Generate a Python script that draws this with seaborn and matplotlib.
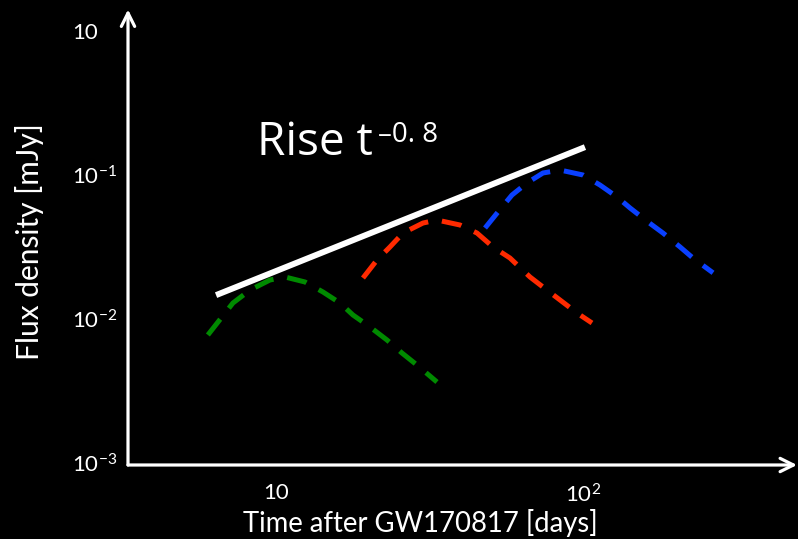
import matplotlib
matplotlib.use("Agg")
import matplotlib.pyplot as plt
import seaborn as sns
import pandas as pd

# Light-curve sketches: time after GW170817 [days] vs flux density [mJy]
green_t = [6.00, 7.24, 8.23, 9.56, 10.70, 12.43, 14.23, 16.16, 17.81, 20.24, 22.99, 25.73, 28.80, 33.45]
green_f = [0.00777, 0.01296, 0.01595, 0.01873, 0.01965, 0.01814, 0.01545, 0.01296, 0.01070, 0.00883,
           0.00717, 0.00582, 0.00480, 0.00366]

red_t = [19.20, 21.33, 23.51, 25.93, 30.12, 33.45, 39.75, 45.15, 50.91, 57.83, 67.20, 74.07, 84.19, 95.60, 106.98]
red_f = [0.01933, 0.02579, 0.03177, 0.03972, 0.04661, 0.04891, 0.04514, 0.03972, 0.03177, 0.02662,
         0.01965, 0.01674, 0.01359, 0.01105, 0.00941]

blue_t = [47.96, 52.85, 58.71, 65.70, 74.07, 84.19, 100.0, 113.6, 129.1, 142.3, 162.8, 182.2, 207.0, 228.2, 265.2]
blue_f = [0.04302, 0.05559, 0.07296, 0.08842, 0.1038, 0.1088, 0.1005, 0.0856, 0.0707, 0.0593,
          0.0474, 0.0397, 0.0318, 0.0266, 0.0210]

# Rising envelope
rise_t = [6.38, 101.5]
rise_f = [0.0147, 0.157]

y_ticks = [1, 0.1, 0.01, 0.001]
y_ticklabels = ["10", "10$^{-1}$", "10$^{-2}$", "10$^{-3}$"]
x_ticks = [10, 100]
x_ticklabels = ["10", "10$^{2}$"]

sns.set_theme(style="dark")
plt.rcParams["font.family"] = ["Lato", "DejaVu Sans"]
plt.rcParams["mathtext.default"] = "regular"

fig = plt.figure(figsize=(7.98, 5.39), dpi=100, facecolor="black")
ax = fig.add_axes([128 / 798, (539 - 465) / 539, (797 - 128) / 798, (465 - 9.5) / 539])
ax.set_facecolor("black")
ax.grid(False)
ax.set_xscale("log")
ax.set_yscale("log")

dash = (0, (4.0, 2.8))
curves = [
    (green_t, green_f, "#008a00"),
    (red_t, red_f, "#ff2a00"),
    (blue_t, blue_f, "#0a40ff"),
]
for t, f, c in curves:
    df = pd.DataFrame({"t": t, "f": f})
    sns.lineplot(data=df, x="t", y="f", ax=ax, color=c, lw=3.6, linestyle=dash,
                 estimator=None, sort=False)

sns.lineplot(data=pd.DataFrame({"t": rise_t, "f": rise_f}), x="t", y="f", ax=ax,
             color="white", lw=4.3, estimator=None, sort=False, solid_capstyle="butt")

ax.set_xlim(3.296, 497.8)
ax.set_ylim(0.000970, 1.42)

for s in ax.spines.values():
    s.set_visible(False)

# Axis arrows
arrow = dict(arrowstyle="->", color="white", lw=2.3, mutation_scale=24, shrinkA=0, shrinkB=0)
ax.annotate("", xy=(1, 0), xytext=(0, 0), xycoords="axes fraction", arrowprops=arrow)
ax.annotate("", xy=(0, 1), xytext=(0, 0), xycoords="axes fraction", arrowprops=arrow)

ax.set_xticks(x_ticks)
ax.set_xticklabels(x_ticklabels)
ax.set_yticks(y_ticks)
ax.set_yticklabels(y_ticklabels)
ax.minorticks_off()
ax.tick_params(axis="both", length=0, colors="white", labelsize=16)
ax.tick_params(axis="x", pad=13)
ax.tick_params(axis="y", pad=40)
for lbl in ax.get_yticklabels():
    lbl.set_horizontalalignment("left")

ax.set_xlabel("Time after GW170817 [days]", color="white", fontsize=19.8)
ax.xaxis.set_label_coords(0.4365, -0.097)
ax.set_ylabel("Flux density [mJy]", color="white", fontsize=21.5)
ax.yaxis.set_label_coords(-0.126, 0.49)

ax.text(8.67, 0.1384, "Rise t", color="white", fontsize=33, family=["Open Sans", "DejaVu Sans"],
        va="baseline", ha="left")
ax.text(21.5, 0.170, "\u20130. 8", color="white", fontsize=20, family=["Open Sans", "DejaVu Sans"],
        va="baseline", ha="left")

fig.savefig("out.png", dpi=100, facecolor="black")
